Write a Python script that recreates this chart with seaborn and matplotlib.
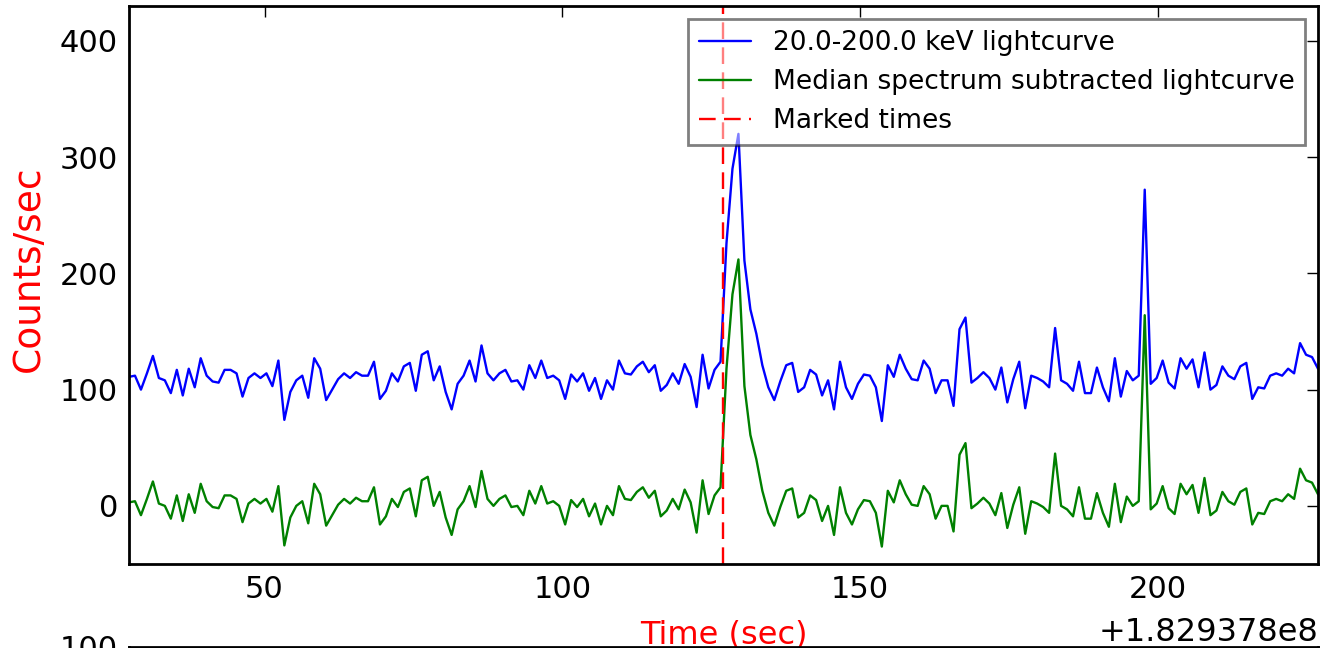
import numpy as np
import pandas as pd
import matplotlib
matplotlib.use("Agg")
import matplotlib.pyplot as plt
import seaborn as sns

# time axis: bin start relative to the offset, 1 s bins
T_OFFSET = 1.829378e8
T_START = 27.25
BIN_SEC = 1.003
MARKED_TIMES = [127.0]

# 20.0-200.0 keV lightcurve (counts/sec)
lc_counts = [
    111, 112, 100, 114, 129, 110, 108, 97, 117, 95,
    118, 102, 127, 112, 107, 106, 117, 117, 114, 94,
    110, 114, 110, 114, 103, 125, 74, 98, 108, 112,
    93, 127, 118, 91, 100, 109, 114, 110, 115, 112,
    112, 124, 92, 99, 114, 107, 120, 123, 99, 130,
    133, 108, 120, 98, 83, 105, 112, 125, 107, 138,
    114, 108, 114, 117, 107, 108, 100, 121, 110, 125,
    110, 112, 108, 92, 113, 107, 114, 99, 110, 92,
    108, 100, 125, 114, 113, 120, 124, 115, 121, 99,
    104, 114, 105, 122, 111, 85, 130, 101, 117, 124,
    226, 290, 320, 211, 169, 148, 121, 102, 91,
    107, 121, 123, 98, 102, 117, 113, 95, 108, 83,
    124, 102, 92, 105, 113, 112, 102, 73, 121, 111,
    130, 118, 109, 108, 125, 118, 97, 108, 108, 86,
    152, 162, 106, 110, 115, 110, 100, 119, 89, 109,
    124, 84, 112, 110, 107, 102, 153, 108, 105, 99,
    124, 97, 97, 119, 102, 90, 127, 94, 116, 108,
    112, 272, 105, 110, 125, 106, 101, 127, 118, 126,
    102, 132, 100, 104, 120, 112, 109, 120, 123, 92,
    102, 101, 112, 114, 112, 118, 114, 140, 130, 128,
    118,
]

# median spectrum subtracted lightcurve (counts/sec)
sub_counts = [
    3, 4, -8, 6, 21, 2, 0, -11, 9, -13,
    10, -6, 19, 4, -1, -2, 9, 9, 6, -14,
    2, 6, 2, 6, -5, 17, -34, -10, 0, 4,
    -15, 19, 10, -17, -8, 1, 6, 2, 7, 4,
    4, 16, -16, -9, 6, -1, 12, 15, -9, 22,
    25, 0, 12, -10, -25, -3, 4, 17, -1, 30,
    6, 0, 6, 9, -1, 0, -8, 13, 2, 17,
    2, 4, 0, -16, 5, -1, 6, -9, 2, -16,
    0, -8, 17, 6, 5, 12, 16, 7, 13, -9,
    -4, 6, -3, 14, 3, -23, 22, -7, 9, 16,
    118, 182, 212, 103, 61, 40, 13, -6, -17,
    -1, 13, 15, -10, -6, 9, 5, -13, 0, -25,
    16, -6, -16, -3, 5, 4, -6, -35, 13, 3,
    22, 10, 1, 0, 17, 10, -11, 0, 0, -22,
    44, 54, -2, 2, 7, 2, -8, 11, -19, 1,
    16, -24, 4, 2, -1, -6, 45, 0, -3, -9,
    16, -11, -11, 11, -6, -18, 19, -14, 8, 0,
    4, 164, -3, 2, 17, -2, -7, 19, 10, 18,
    -6, 24, -8, -4, 12, 4, 1, 12, 15, -16,
    -6, -7, 4, 6, 4, 10, 6, 32, 22, 20,
    10,
]

Y_TICKS = [0, 100, 200, 300, 400]
X_TICKS = [50, 100, 150, 200]

sns.set_style("white")
plt.rcParams["font.family"] = ["DejaVu Sans"]
plt.rcParams["lines.scale_dashes"] = False
plt.rcParams["text.color"] = "black"

times = T_OFFSET + T_START + BIN_SEC * np.arange(len(lc_counts))
df = pd.DataFrame({"time": times, "lc": lc_counts, "sub": sub_counts})

W, H = 1321, 648
fig = plt.figure(figsize=(W / 100, H / 100), dpi=100)
left, right, top, bottom = 129 / W, 1318 / W, 6 / H, 564 / H
ax = fig.add_axes([left, 1 - bottom, right - left, bottom - top])

sns.lineplot(data=df, x="time", y="lc", ax=ax, color="#0000ff", lw=1.7,
             label="20.0-200.0 keV lightcurve")
sns.lineplot(data=df, x="time", y="sub", ax=ax, color="#008000", lw=1.7,
             label="Median spectrum subtracted lightcurve")
for i, t in enumerate(MARKED_TIMES):
    ax.axvline(T_OFFSET + t, color="#ff0000", lw=1.7, dashes=(12, 6),
               label="Marked times" if i == 0 else None)

ax.set_xlim(times[0], times[-1])
ax.set_ylim(-50, 430)
ax.set_xticks([T_OFFSET + x for x in X_TICKS])
ax.set_yticks(Y_TICKS)
ax.xaxis.get_major_formatter().set_useOffset(T_OFFSET)
ax.xaxis.get_offset_text().set_fontsize(23)
ax.xaxis.OFFSETTEXTPAD = 9

ax.tick_params(direction="in", length=8, width=1, top=True, right=True,
               labelsize=22, pad=8, colors="black")
for s in ax.spines.values():
    s.set_linewidth(2)
    s.set_color("black")

ax.set_xlabel("Time (sec)", color="red", fontsize=23, labelpad=11)
ax.set_ylabel("Counts/sec", color="red", fontsize=27)
ax.yaxis.set_label_coords(-0.069, 0.53)

leg = ax.legend(loc="upper right", fontsize=19, framealpha=0.5, fancybox=False,
                edgecolor="black", handlelength=2.0, borderpad=0.4)
leg.get_frame().set_linewidth(2)
for txt in leg.get_texts():
    txt.set_color("black")

# top of the next panel, cut off by the figure edge
ax2 = fig.add_axes([left, -0.3, right - left, 0.3 + 1 / H])
ax2.set_ylim(-50, 100)
ax2.set_yticks([100])
ax2.set_xticks([])
ax2.tick_params(direction="in", length=8, width=1, labelsize=22, pad=8,
                colors="black")
for s in ax2.spines.values():
    s.set_linewidth(2)
    s.set_color("black")

fig.savefig("out.png", dpi=100)
